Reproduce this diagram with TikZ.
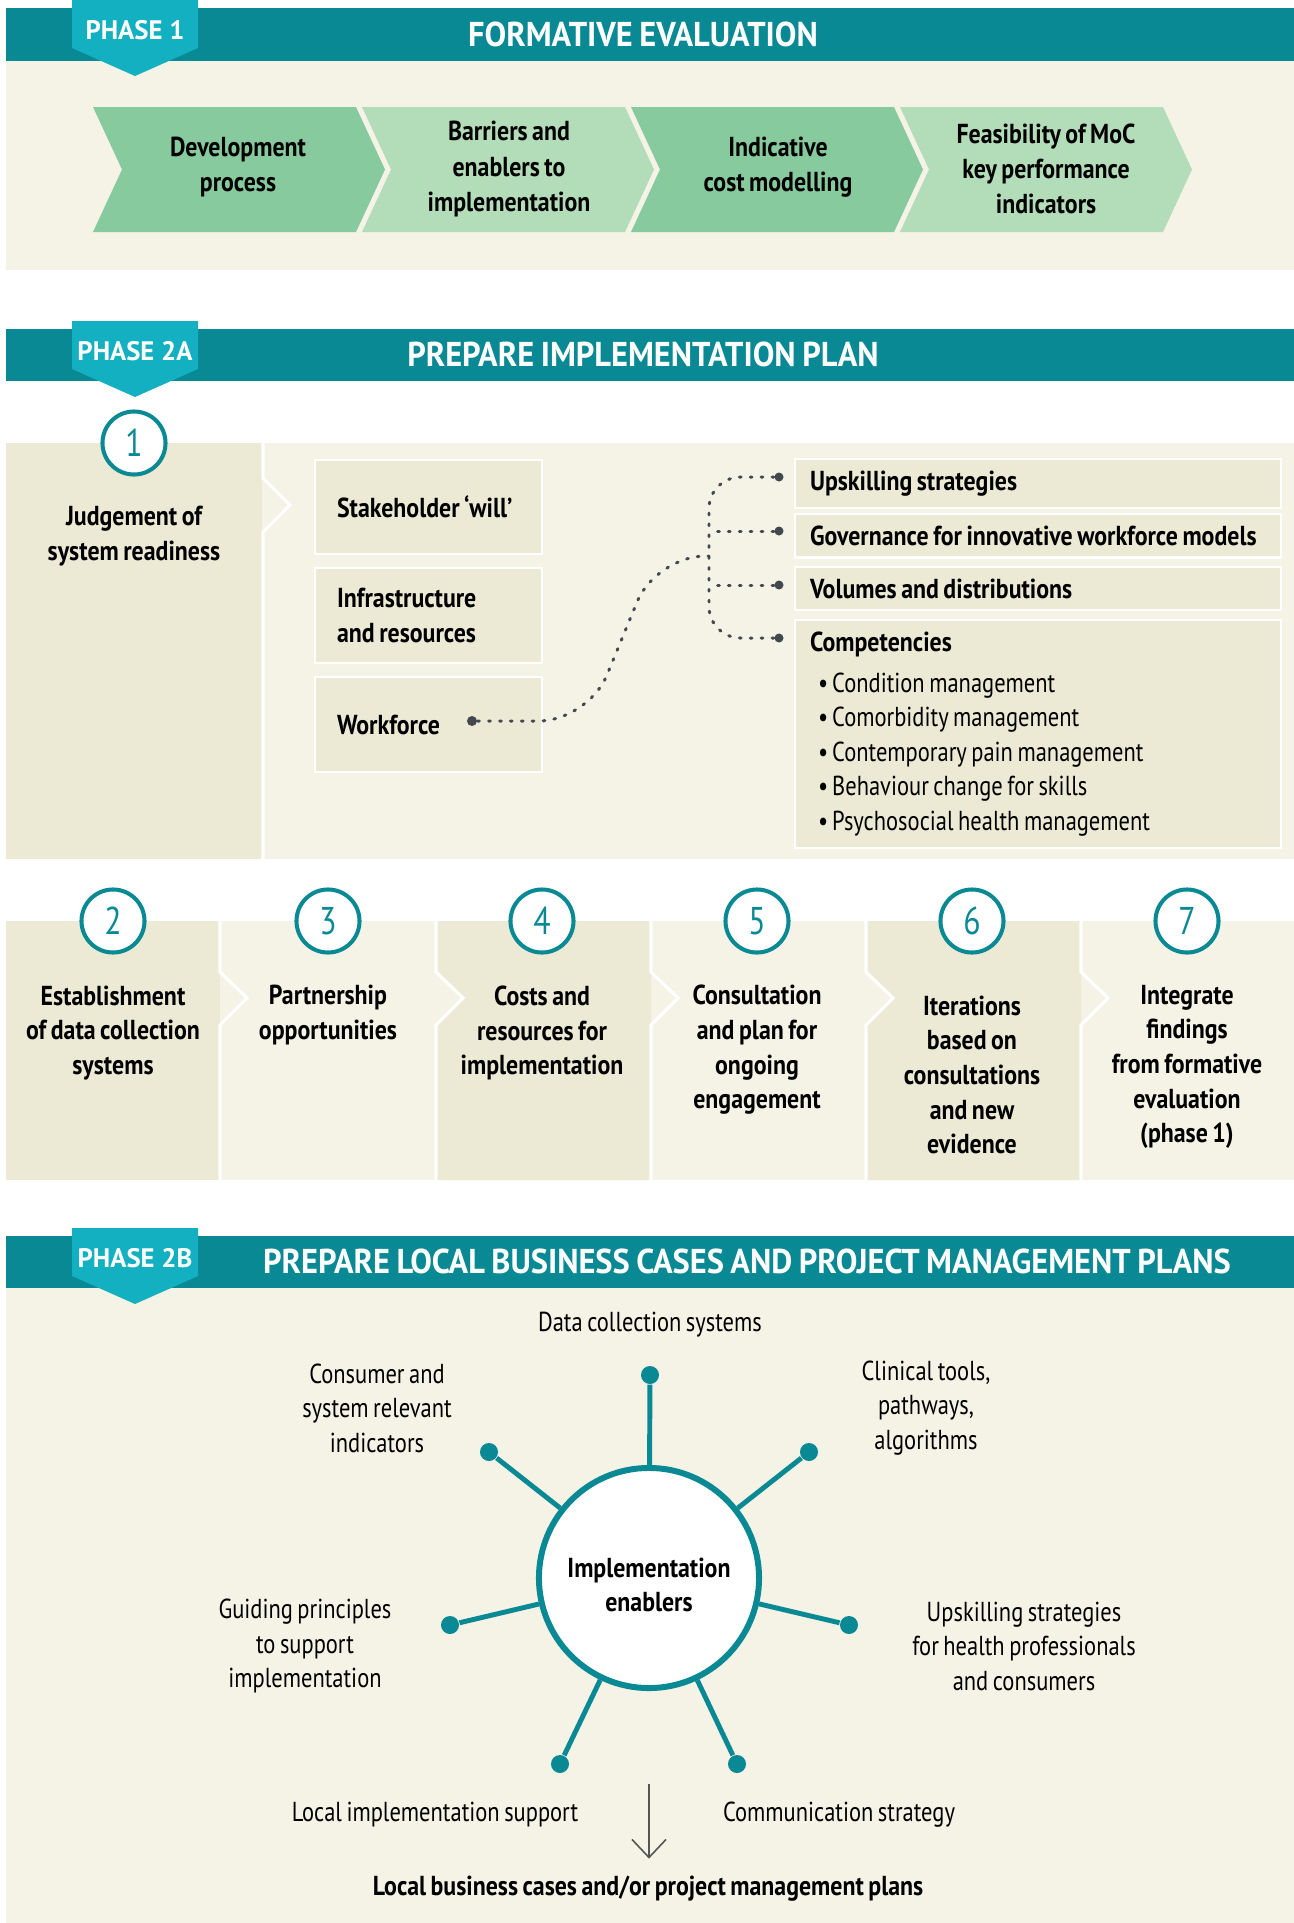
\documentclass[tikz,border=0pt]{standalone}
\usepackage{fontspec}
\setmainfont[FakeStretch=0.82, WordSpace=0.75]{PT Sans}
\newfontfamily\strongfont[FakeStretch=0.87, WordSpace=0.75]{PT Sans}
\newfontfamily\headfont[FakeStretch=0.94, WordSpace=0.8]{PT Sans}
\newfontfamily\tagfont{PT Sans}
\usetikzlibrary{
    positioning,
    calc,
    arrows.meta,
}
\definecolor{barteal}{RGB}{8,137,148}
\definecolor{tagcyan}{RGB}{18,176,192}
\definecolor{panel}{RGB}{245,242,230}
\definecolor{panedark}{RGB}{236,233,212}
\definecolor{chevdark}{RGB}{134,202,157}
\definecolor{chevlight}{RGB}{179,221,185}
\definecolor{dotgrey}{RGB}{66,72,80}
\definecolor{arrgrey}{RGB}{85,85,85}

\begin{document}
\begin{tikzpicture}[
    x=0.01cm, y=-0.01cm,
    headtext/.style={text=white, font=\headfont\bfseries\fontsize{9.8}{11}\selectfont, inner sep=0pt},
    tagtext/.style={text=white, font=\tagfont\bfseries\fontsize{7.6}{8}\selectfont, inner sep=0pt},
    chevtext/.style={align=center, font=\strongfont\bfseries\fontsize{7.8}{9.96}\selectfont, inner sep=0pt},
    steptext/.style={align=center, font=\strongfont\bfseries\fontsize{7.8}{9.85}\selectfont, inner sep=0pt},
    numring/.style={circle, draw=barteal, line width=1.15pt, fill=white, minimum size=0.63cm,
                inner sep=0pt, text=barteal, font=\fontsize{11}{12}\selectfont},
    factor/.style={draw=white, line width=0.6pt, fill=panedark, anchor=north west,
                minimum width=2.27cm, text width=1.83cm, align=flush left, inner xsep=0.22cm,
                font=\strongfont\bfseries\fontsize{7.8}{9.8}\selectfont},
    wfbox/.style={draw=white, line width=0.6pt, fill=panedark, anchor=north west,
                minimum width=4.86cm, text width=4.56cm, align=flush left, inner xsep=0.15cm,
                font=\strongfont\bfseries\fontsize{7.8}{9.8}\selectfont},
    dotlink/.style={draw=dotgrey, line width=0.85pt, line cap=round, dash pattern=on 0.5pt off 2.6pt},
    pindot/.style={circle, fill=dotgrey, inner sep=0pt, minimum size=0.09cm},
    hub/.style={circle, draw=barteal, line width=1.7pt, fill=white, minimum size=2.2cm},
    spoke/.style={draw=barteal, line width=1.4pt},
    knob/.style={circle, fill=barteal, inner sep=0pt, minimum size=0.18cm},
    enabler/.style={align=center, font=\fontsize{7.8}{9.8}\selectfont, inner sep=0pt},
    resarrow/.style={draw=arrgrey, line width=0.45pt, -{Straight Barb[length=0.18cm, width=0.34cm]}},
]
\useasboundingbox (0,0) rectangle (1294,1923);
\fill[white] (0,0) rectangle (1294,1923);

% phase 1
\fill[panel] (6,61) rectangle (1294,270);
\fill[barteal] (6,8) rectangle (1294,61);
\foreach \i/\col in {0/chevdark,1/chevlight,2/chevdark,3/chevlight}
    \fill[\col] (93+269*\i,107) -- ++(263,0) -- ++(29,62.5) -- ++(-29,62.5) -- ++(-263,0) -- ++(29,-62.5) -- cycle;
\node[headtext] (formative) at (643,34) {FORMATIVE EVALUATION};
\node[chevtext] (devproc) at (238,167) {Development\\process};
\node[chevtext] (barriers) at (509,169) {Barriers and\\enablers to\\implementation};
\node[chevtext] (costmod) at (778,167) {Indicative\\cost modelling};
\node[chevtext] (kpi) at (1046,169) {Feasibility of MoC\\key performance\\indicators};

% phase 2a
\fill[barteal] (6,329) rectangle (1294,381);
\fill[panel] (262,443) rectangle (1294,859);
\fill[panedark] (6,443) rectangle (262,859);
\draw[white, line width=0.9pt] (263,443) -- (263,478) -- (290,505) -- (263,532) -- (263,859);
\node[headtext] (prepare) at (643,354) {PREPARE IMPLEMENTATION PLAN};
\node[numring] (step1) at (134,443) {1};
\node[steptext] (judge) at (134,536) {Judgement of\\system readiness};

\node[factor, minimum height=0.94cm] (stake) at (314,459) {Stakeholder ‘will’};
\node[factor, minimum height=0.95cm] (infra) at (314,567) {Infrastructure\\and resources};
\node[factor, minimum height=0.95cm] (workforce) at (314,676) {Workforce};

\node[wfbox, minimum height=0.39cm] (upskill) at (794,458) {Upskilling strategies};
\node[wfbox, minimum height=0.38cm] (govern) at (794,513) {\mbox{Governance for innovative workforce models}};
\node[wfbox, minimum height=0.38cm] (volumes) at (794,566) {Volumes and distributions};
\node[wfbox, minimum height=2.25cm] (compet) at (794,619) {Competencies\\[1.8pt]
    {\rmfamily\mdseries\hspace*{0.08cm}\textbullet\hspace{0.04cm}Condition management\\
    \hspace*{0.08cm}\textbullet\hspace{0.04cm}Comorbidity management\\
    \hspace*{0.08cm}\textbullet\hspace{0.04cm}Contemporary pain management\\
    \hspace*{0.08cm}\textbullet\hspace{0.04cm}Behaviour change for skills\\
    \hspace*{0.08cm}\textbullet\hspace{0.04cm}Psychosocial health management}};

\node[pindot, minimum size=0.1cm] (wfpin) at (472,721) {};
\node[pindot] (uppin) at (779,477) {};
\node[pindot] (govpin) at (779,531) {};
\node[pindot] (volpin) at (779,585) {};
\node[pindot] (compin) at (779,638) {};
\coordinate (brtop) at (709,477);
\coordinate (brmid) at (709,531);
\coordinate (brlow) at (709,585);
\coordinate (brbot) at (709,638);
\coordinate (brjoin) at (709,556);

\draw[dotlink, rounded corners=9] (uppin) -- (brtop) -- (brbot) -- (compin);
\draw[dotlink] (govpin) -- (brmid);
\draw[dotlink] (volpin) -- (brlow);
\draw[dotlink, rounded corners=14] (wfpin) -- (588,721) -- (656,556) -- (brjoin);

% steps 2 to 7
\fill[panel] (6,921) rectangle (1294,1180);
\fill[panedark] (6,921) rectangle (220,1180);
\foreach \x in {436,866}
    \fill[panedark] (\x,921) -- (\x+215,921) -- (\x+215,1180) -- (\x,1180) -- (\x,1025) -- (\x+27,998) -- (\x,972) -- cycle;
\foreach \x in {220,436,651,866,1081}
    \draw[white, line width=0.9pt] (\x,921) -- (\x,972) -- (\x+27,998) -- (\x,1025) -- (\x,1180);
\foreach \n/\x in {2/113,3/328,4/542,5/757,6/972,7/1187}
    \node[numring] (step\n) at (\x,921) {\n};
\node[steptext] (datasys) at (113,1033) {Establishment\\of data collection\\systems};
\node[steptext] (partner) at (328,1015) {Partnership\\opportunities};
\node[steptext] (costs) at (542,1033) {Costs and\\resources for\\implementation};
\node[steptext] (consult) at (757,1050) {Consultation\\and plan for\\ongoing\\engagement};
\node[steptext] (iterate) at (972,1075) {Iterations\\based on\\consultations\\and new\\evidence};
\node[steptext] (integrate) at (1187,1067) {Integrate\\findings\\from formative\\evaluation\\(phase 1)};

% phase 2b
\fill[barteal] (6,1236) rectangle (1294,1288);
\fill[panel] (6,1288) rectangle (1294,1923);
\node[headtext] (business) at (747,1261) {PREPARE LOCAL BUSINESS CASES AND PROJECT MANAGEMENT PLANS};

\node[hub] (enablers) at (649,1578) {};
\node[steptext] (hubtext) at (649,1585) {Implementation\\enablers};
\node[knob] (ktop) at (650,1375) {};
\node[knob] (kul) at (489,1452) {};
\node[knob] (kur) at (809,1452) {};
\node[knob] (kl) at (450,1625) {};
\node[knob] (kr) at (849,1625) {};
\node[knob] (kll) at (560,1764) {};
\node[knob] (klr) at (737,1764) {};
\foreach \k in {ktop,kul,kur,kl,kr,kll,klr}
    \draw[spoke] (enablers) -- (\k);

\node[enabler] (datacol) at (650,1325) {Data collection systems};
\node[enabler] (consumer) at (377,1408) {Consumer and\\system relevant\\indicators};
\node[enabler] (clinical) at (926,1408) {Clinical tools,\\pathways,\\algorithms};
\node[enabler] (guiding) at (305,1646) {Guiding principles\\to support\\implementation};
\node[enabler] (upskillhp) at (1024,1646) {Upskilling strategies\\for health professionals\\and consumers};
\node[enabler] (localsup) at (435,1815) {Local implementation support};
\node[enabler] (comms) at (839,1815) {Communication strategy};
\node[steptext] (result) at (648,1889) {Local business cases and/or project management plans};
\coordinate (arrtop) at (649,1784);
\draw[resarrow, shorten >=0.17cm] (arrtop) -- (arrtop |- result.north);

% tags on top
\foreach \ty/\lbl/\nm in {0/{PHASE 1}/tagone, 321/{PHASE 2A}/tagtwoa, 1228/{PHASE 2B}/tagtwob}{
    \fill[tagcyan] (72,\ty) -- (198,\ty) -- (198,\ty+48) -- (135,\ty+76) -- (72,\ty+48) -- cycle;
    \node[tagtext] (\nm) at (135,\ty+30) {\lbl};
}

\end{tikzpicture}
\end{document}
